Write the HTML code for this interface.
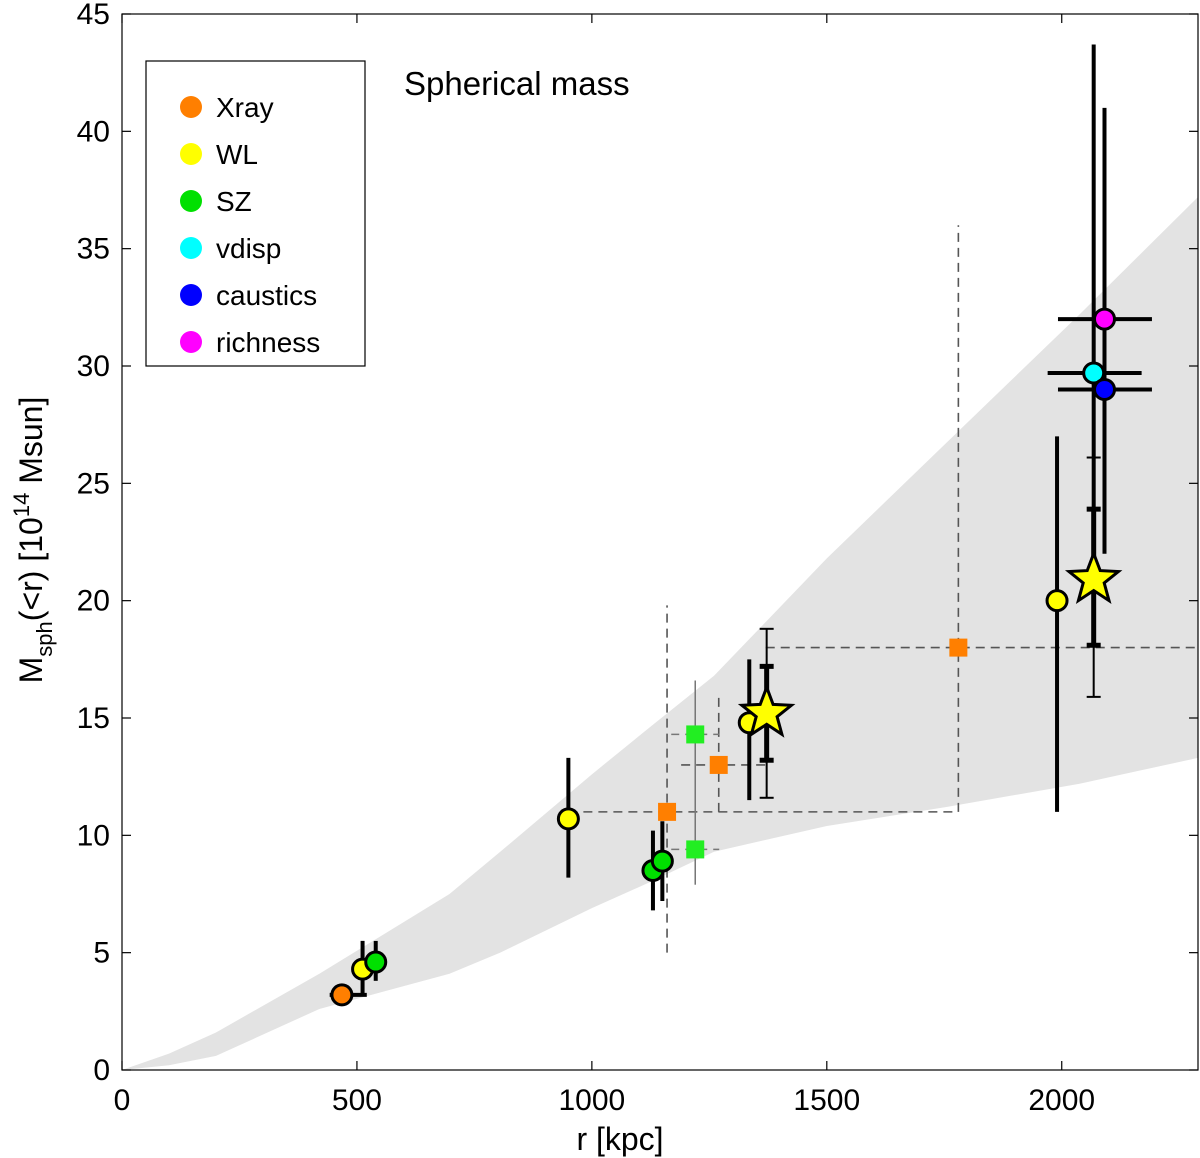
<!DOCTYPE html>
<html><head><meta charset="utf-8"><style>
html,body{margin:0;padding:0;background:#fff;}
svg{display:block;font-family:"Liberation Sans",Arial,sans-serif;}
</style></head><body>
<svg id="chart" width="1200" height="1158" xmlns="http://www.w3.org/2000/svg"></svg>
<script>
// ---- data ----
const xTicks=[0,500,1000,1500,2000];
const yTicks=[0,5,10,15,20,25,30,35,40,45];
const bandX=[0,100,200,420,697,805,1000,1123,1260,1500,1753,2038,2290];
const bandUpper=[0,0.7,1.6,4.1,7.5,9.3,12.6,14.6,16.8,21.8,26.7,32.2,37.2];
const bandLower=[0,0.2,0.6,2.6,4.1,5.0,6.9,8.0,9.3,10.4,11.2,12.2,13.3];
// circles: x, y, lo, hi, xlo, xhi, color
const ptX=[468,512,540,950,1130,1150,1335,1990,2068,2091,2091];
const ptY=[3.2,4.3,4.6,10.7,8.5,8.9,14.8,20,29.7,29,32];
const ptLo=[3.2,3.2,3.8,8.2,6.8,7.2,11.5,11,18.5,22,32];
const ptHi=[3.2,5.5,5.5,13.3,10.2,10.6,17.5,27,43.7,41,32];
const ptXLo=[442,512,540,950,1130,1150,1335,1990,1970,1992,1992];
const ptXHi=[521,512,540,950,1130,1150,1335,1990,2170,2192,2192];
const ptColor=["#ff7f00","#ffff00","#00e000","#ffff00","#00e000","#00e000","#ffff00","#ffff00","#00ffff","#0000ff","#ff00ff"];
// stars
const starX=[1372,2068];
const starY=[15.2,20.9];
const starThickLo=[13.2,18.1];
const starThickHi=[17.2,23.9];
const starThinLo=[11.6,15.9];
const starThinHi=[18.8,26.1];
// orange squares with dashed range
const sqOX=[1160,1270,1780];
const sqOY=[11,13,18];
const sqOXLo=[950,1190,1370];
const sqOXHi=[1772,1380,2290];
const sqOYLo=[5.0,11,11];
const sqOYHi=[19.8,16,36];
// green squares
const sqGX=[1220,1220];
const sqGY=[14.3,9.4];
const sqGLo=[7.9,7.9];
const sqGHi=[16.6,16.6];
const legendLabels=["Xray","WL","SZ","vdisp","caustics","richness"];
const legendColors=["#ff7f00","#ffff00","#00e000","#00ffff","#0000ff","#ff00ff"];

const L=122,T=14,R=1198,B=1070,XMAX=2290,YMAX=45;
const sx=v=>L+v*(R-L)/XMAX;
const sy=v=>B-v*(B-T)/YMAX;
const svg=document.getElementById('chart');
const NS="http://www.w3.org/2000/svg";
function mk(tag,attrs,parent){const e=document.createElementNS(NS,tag);for(const k in attrs)e.setAttribute(k,attrs[k]);(parent||svg).appendChild(e);return e;}

// band
let d="M"+bandX.map((x,i)=>sx(x)+","+sy(bandUpper[i])).join(" L");
for(let i=bandX.length-1;i>=0;i--)d+=" L"+sx(bandX[i])+","+sy(bandLower[i]);
const band=mk('path',{d:d+"Z",fill:"#e3e3e3"});



// orange dashed ranges
sqOX.forEach((x,i)=>{
  const g=mk('g',{stroke:"#555","stroke-width":1.6,"stroke-dasharray":"9,6",fill:"none"});
  
  
  mk('line',{x1:sx(sqOXLo[i]),x2:sx(sqOXHi[i]),y1:sy(sqOY[i]),y2:sy(sqOY[i])},g);
  mk('line',{x1:sx(x),x2:sx(x),y1:sy(sqOYLo[i]),y2:sy(sqOYHi[i])},g);
});
// green squares thin bars
sqGX.forEach((x,i)=>{
  const l=mk('line',{x1:sx(x),x2:sx(x),y1:sy(sqGLo[i]),y2:sy(sqGHi[i]),stroke:"#777","stroke-width":1.5});
  
  
  mk('line',{x1:sx(x)-24,x2:sx(x)+24,y1:sy(sqGY[i]),y2:sy(sqGY[i]),stroke:"#777","stroke-width":1.5,"stroke-dasharray":"8,6"});
});

// circle error bars
ptX.forEach((x,i)=>{
  const g=mk('g',{stroke:"#000","stroke-width":4});
  
  
  if(ptHi[i]!==ptLo[i])mk('line',{x1:sx(x),x2:sx(x),y1:sy(ptLo[i]),y2:sy(ptHi[i])},g);
  if(ptXHi[i]!==ptXLo[i])mk('line',{x1:sx(ptXLo[i]),x2:sx(ptXHi[i]),y1:sy(ptY[i]),y2:sy(ptY[i])},g);
});
// star error bars
starX.forEach((x,i)=>{
  const g=mk('g',{stroke:"#000"});
  
  
  mk('line',{x1:sx(x),x2:sx(x),y1:sy(starThinLo[i]),y2:sy(starThinHi[i]),"stroke-width":2},g);
  mk('line',{x1:sx(x)-7,x2:sx(x)+7,y1:sy(starThinLo[i]),y2:sy(starThinLo[i]),"stroke-width":2},g);
  mk('line',{x1:sx(x)-7,x2:sx(x)+7,y1:sy(starThinHi[i]),y2:sy(starThinHi[i]),"stroke-width":2},g);
  mk('line',{x1:sx(x),x2:sx(x),y1:sy(starThickLo[i]),y2:sy(starThickHi[i]),"stroke-width":5},g);
  mk('line',{x1:sx(x)-7,x2:sx(x)+7,y1:sy(starThickLo[i]),y2:sy(starThickLo[i]),"stroke-width":5},g);
  mk('line',{x1:sx(x)-7,x2:sx(x)+7,y1:sy(starThickHi[i]),y2:sy(starThickHi[i]),"stroke-width":5},g);
});
// squares
sqOX.forEach((x,i)=>{
  const r=mk('rect',{x:sx(x)-9,y:sy(sqOY[i])-9,width:18,height:18,fill:"#ff7f00"});
  
  
});
sqGX.forEach((x,i)=>{
  const r=mk('rect',{x:sx(x)-9,y:sy(sqGY[i])-9,width:18,height:18,fill:"#22ee22"});
  
  
});
// circles
ptX.forEach((x,i)=>{
  const c=mk('circle',{cx:sx(x),cy:sy(ptY[i]),r:10,fill:ptColor[i],stroke:"#000","stroke-width":3});
  
  
});
// stars
function starPath(cx,cy,ro,ri){let p=[];for(let k=0;k<10;k++){const a=-Math.PI/2+k*Math.PI/5;const r=k%2?ri:ro;p.push((cx+r*Math.cos(a)).toFixed(1)+","+(cy+r*Math.sin(a)).toFixed(1));}return "M"+p.join(" L")+"Z";}
starX.forEach((x,i)=>{
  const s=mk('path',{d:starPath(sx(x),sy(starY[i]),26,11),fill:"#ffff00",stroke:"#000","stroke-width":3,"stroke-linejoin":"miter"});
  
  
});

// frame & ticks
const fr=mk('rect',{x:L,y:T,width:R-L,height:B-T,fill:"none",stroke:"#000","stroke-width":1.2});


xTicks.forEach(v=>{
  mk('line',{x1:sx(v),x2:sx(v),y1:B,y2:B-9,stroke:"#000","stroke-width":1.2});
  mk('line',{x1:sx(v),x2:sx(v),y1:T,y2:T+9,stroke:"#000","stroke-width":1.2});
  const t=mk('text',{x:sx(v),y:B+40,"text-anchor":"middle","font-size":30});
  t.textContent=v;
  
  
});
yTicks.forEach(v=>{
  mk('line',{x1:L,x2:L+9,y1:sy(v),y2:sy(v),stroke:"#000","stroke-width":1.2});
  mk('line',{x1:R,x2:R-9,y1:sy(v),y2:sy(v),stroke:"#000","stroke-width":1.2});
  const t=mk('text',{x:L-12,y:sy(v)+10,"text-anchor":"end","font-size":30});
  t.textContent=v;
  
  
});
// legend
const lg=mk('g',{});


mk('rect',{x:146,y:61,width:219,height:305,fill:"#fff",stroke:"#000","stroke-width":1.2},lg);
legendLabels.forEach((lab,i)=>{
  const y=107+i*47;
  const e=mk('g',{},lg);
  
  
  mk('circle',{cx:191,cy:y,r:11,fill:legendColors[i]},e);
  const t=mk('text',{x:216,y:y+10,"font-size":28},e);
  t.textContent=lab;
});
</script>
<svg style="position:absolute;left:0;top:0" width="1200" height="1158" xmlns="http://www.w3.org/2000/svg">
<text x="404" y="95" font-size="33" font-family="Liberation Sans, Arial, sans-serif">Spherical mass</text>
<text x="620" y="1150" text-anchor="middle" font-size="32" font-family="Liberation Sans, Arial, sans-serif">r [kpc]</text>
<text transform="translate(42,540) rotate(-90)" text-anchor="middle" font-size="32" font-family="Liberation Sans, Arial, sans-serif">M<tspan font-size="22" dy="10">sph</tspan><tspan dy="-10">(&lt;r) [10</tspan><tspan font-size="22" dy="-13">14</tspan><tspan dy="13"> Msun]</tspan></text>
</svg>
</body></html>
